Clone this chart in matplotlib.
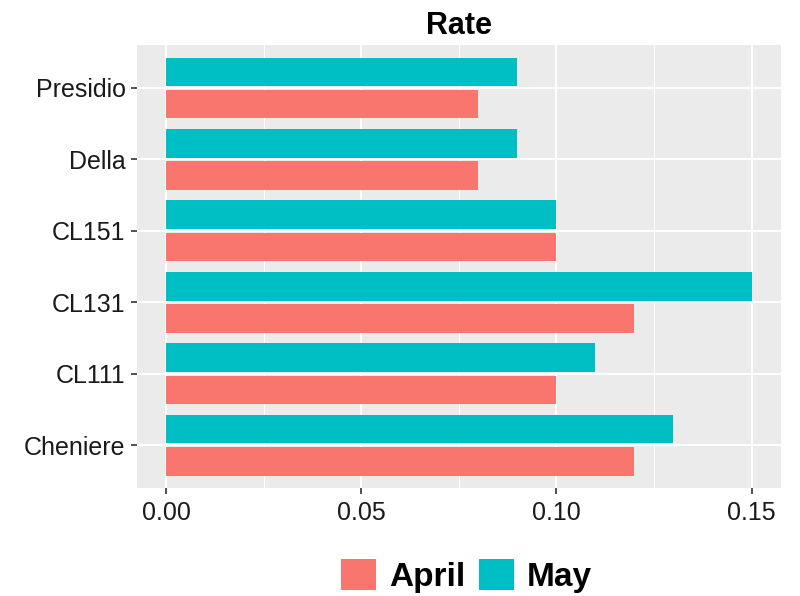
import numpy as np
import matplotlib
matplotlib.use('Agg')
import matplotlib.pyplot as plt
from matplotlib.patches import Patch

plt.rcParams['font.family'] = ['Liberation Sans', 'DejaVu Sans']

# Datos
variedades = ['Cheniere', 'CL111', 'CL131', 'CL151', 'Della', 'Presidio']
april = [0.12, 0.10, 0.12, 0.10, 0.08, 0.08]
may = [0.13, 0.11, 0.15, 0.10, 0.09, 0.09]
meses = ['April', 'May']
colores = ['#F8766D', '#00BFC4']

fig = plt.figure(figsize=(8, 5.96), dpi=100)
ax = fig.add_axes([0.171, 0.181, 0.805, 0.7435])

y = np.arange(1, len(variedades) + 1)
alto = 0.4
ax.barh(y - 0.225, april, height=alto, color=colores[0], zorder=3)
ax.barh(y + 0.225, may, height=alto, color=colores[1], zorder=3)

# estilo ggplot
ax.set_facecolor('#EBEBEB')
for s in ax.spines.values():
    s.set_visible(False)
ax.set_xlim(-0.0075, 0.1575)
ax.set_ylim(0.4, 6.6)
ax.set_xticks([0.0, 0.05, 0.10, 0.15])
ax.set_xticklabels(['0.00', '0.05', '0.10', '0.15'])
ax.set_xticks([0.025, 0.075, 0.125], minor=True)
ax.set_yticks(y)
ax.set_yticklabels(variedades)
ax.grid(which='major', color='white', linewidth=1.4, zorder=0)
ax.grid(which='minor', axis='x', color='white', linewidth=0.7, zorder=0)
ax.tick_params(axis='both', which='major', labelsize=18, color='#333333', length=4, width=1.2, labelcolor='#1a1a1a')
ax.tick_params(axis='x', which='minor', length=0)
ax.tick_params(axis='x', pad=5)
ax.tick_params(axis='y', pad=4)
ax.set_axisbelow(True)

ax.set_title('Rate', fontsize=22, fontweight='bold', pad=8)

handles = [Patch(facecolor=c, label=m) for c, m in zip(colores, meses)]
leg = fig.legend(handles=handles, loc='center', bbox_to_anchor=(0.583, 0.034), ncol=2,
                 frameon=False, prop={'size': 24, 'weight': 'bold'},
                 handlelength=1.05, handleheight=1.05, handletextpad=0.4, columnspacing=0.4)

plt.savefig('out.png', dpi=100)
